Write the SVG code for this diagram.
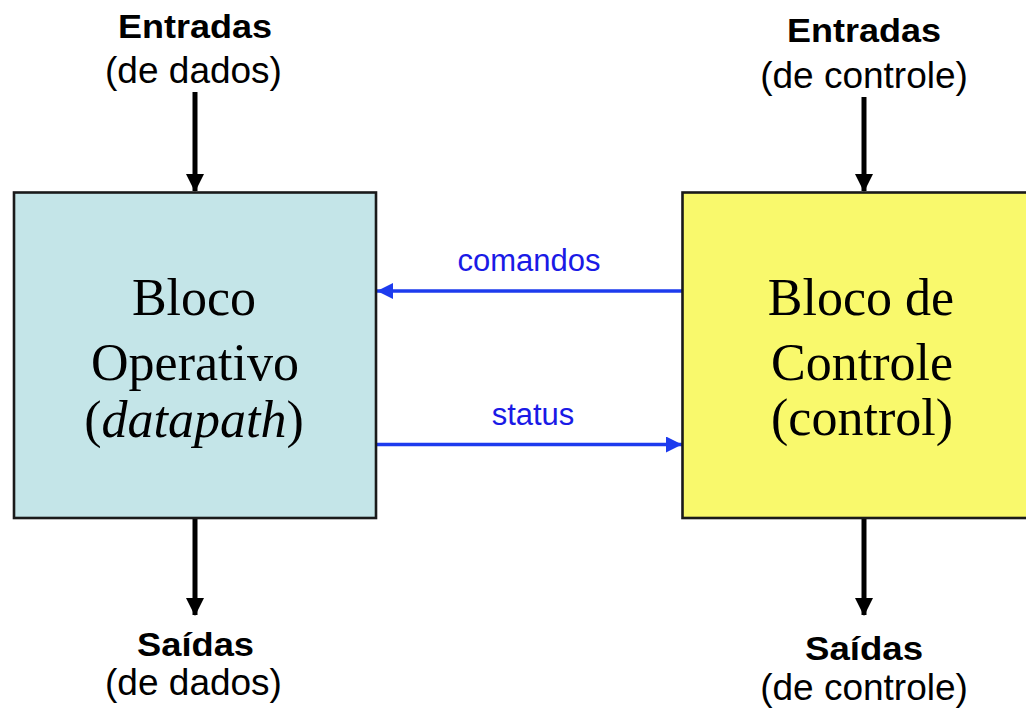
<svg xmlns="http://www.w3.org/2000/svg" width="1026" height="712" viewBox="0 0 1026 712">
<defs>
<style>
.bold{font-family:"Liberation Sans",Arial,sans-serif;font-weight:bold;font-size:33px;fill:#000;text-anchor:middle}
.reg{font-family:"Liberation Sans",Arial,sans-serif;font-size:37px;fill:#000;text-anchor:middle}
.serif{font-family:"Liberation Serif","Times New Roman",serif;font-size:52px;fill:#000;text-anchor:middle}
.lbl{font-family:"Liberation Sans",Arial,sans-serif;font-size:31px;fill:#1A1AE6;text-anchor:middle}
.blk{stroke:#000;stroke-width:5;fill:none}
.blu{stroke:#1D3BEE;stroke-width:3.6;fill:none}
.box{stroke:#1a1a1a;stroke-width:2.6}
</style>
<marker id="hb" viewBox="0 0 18 18" refX="17" refY="9" markerUnits="userSpaceOnUse" markerWidth="18" markerHeight="18" orient="auto">
<path d="M0,0 L18,9 L0,18 Z" fill="#000"/>
</marker>
<marker id="hu" viewBox="0 0 16 16" refX="16" refY="8" markerUnits="userSpaceOnUse" markerWidth="16" markerHeight="16" orient="auto">
<path d="M0,0 L16,8 L0,16 Z" fill="#1D3BEE"/>
</marker>
</defs>
<rect width="1026" height="712" fill="#fff"/>
<g id="connectors">
<line class="blk" x1="195" y1="92" x2="195" y2="191" marker-end="url(#hb)"/>
<line class="blk" x1="864" y1="97" x2="864" y2="191" marker-end="url(#hb)"/>
<line class="blk" x1="195" y1="518" x2="195" y2="615" marker-end="url(#hb)"/>
<line class="blk" x1="864" y1="518" x2="864" y2="615" marker-end="url(#hb)"/>
<line class="blu" x1="682" y1="291" x2="377" y2="291" marker-end="url(#hu)"/>
<line class="blu" x1="377" y1="444.5" x2="682" y2="444.5" marker-end="url(#hu)"/>
<text class="lbl" x="529" y="271">comandos</text>
<text class="lbl" x="533" y="425">status</text>
</g>
<g id="datapath">
<rect class="box" x="14" y="192.5" width="362" height="325.5" fill="#C4E5E8"/>
<text class="serif" x="194" y="315">Bloco</text>
<text class="serif" x="195" y="380">Operativo</text>
<text class="serif" x="194" y="437">(<tspan font-style="italic">datapath</tspan>)</text>
</g>
<g id="control">
<rect class="box" x="682.5" y="192.5" width="362" height="325.5" fill="#F9F96C"/>
<text class="serif" x="861" y="315">Bloco de</text>
<text class="serif" x="862" y="380">Controle</text>
<text class="serif" x="862" y="435">(control)</text>
</g>
<g id="in-data">
<text class="bold" x="195" y="38" textLength="154" lengthAdjust="spacingAndGlyphs">Entradas</text>
<text class="reg" x="193.5" y="83">(de dados)</text>
</g>
<g id="in-control">
<text class="bold" x="864" y="42" textLength="154" lengthAdjust="spacingAndGlyphs">Entradas</text>
<text class="reg" x="864" y="88">(de controle)</text>
</g>
<g id="out-data">
<text class="bold" x="195.5" y="656" textLength="117" lengthAdjust="spacingAndGlyphs">Saídas</text>
<text class="reg" x="193.5" y="695">(de dados)</text>
</g>
<g id="out-control">
<text class="bold" x="864" y="660" textLength="118" lengthAdjust="spacingAndGlyphs">Saídas</text>
<text class="reg" x="864" y="700">(de controle)</text>
</g>
</svg>
